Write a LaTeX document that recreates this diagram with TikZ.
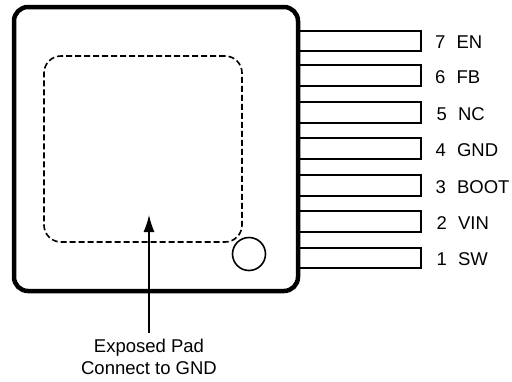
\documentclass[tikz,border=0pt]{standalone}
\usepackage{fontspec}
\setmainfont{Liberation Sans}
\usetikzlibrary{arrows.meta}
\tikzstyle{pkgbox}=[
      rectangle,
      inner sep = 0pt,
      line width = 4.5pt,
      rounded corners = 14pt,
      draw = black,
      minimum width = 284pt,
      minimum height = 284pt
      ]
\tikzstyle{padbox}=[
      rectangle,
      inner sep = 0pt,
      line width = 1.6pt,
      dash pattern = on 6pt off 3pt,
      rounded corners = 17pt,
      draw = black,
      minimum width = 198pt,
      minimum height = 186pt
      ]
\tikzstyle{pinbox}=[
      rectangle,
      inner sep = 0pt,
      line width = 2pt,
      draw = black,
      minimum width = 121.5pt,
      minimum height = 20.5pt
      ]
\tikzstyle{pinlabel}=[
      inner sep = 0pt,
      anchor = west,
      yshift = -1.5pt,
      font = \fontsize{18.5pt}{22pt}\selectfont
      ]
\begin{document}
\begin{tikzpicture}[x=1pt,y=-1pt]
\useasboundingbox (0,0) rectangle (512,381);
% pins first, the package outline sits over their left ends
\foreach \y/\x/\num/\sig in {41/435/7/EN,75.5/435/6/FB,112.5/436.5/5/NC,148.5/435.5/4/GND,185.5/435.5/3/BOOT,221.5/436.5/2/VIN,258/436.5/1/SW}{
  \node [pinbox,anchor=west] (pin\num) at (298,\y) {};
  \node [pinlabel] (lab\num) at (\x,\y) {\num\hspace{0.6em}\sig};
}
\node [pkgbox] (pkg) at (156,149) {};
\node [padbox] (pad) at (143,149) {};
\node [circle,draw,line width=1.6pt,inner sep=0pt,minimum size=33pt] (dot) at (249,254) {};
\coordinate (padtip) at (149,215);
\node [align=center,anchor=north,inner sep=6pt,font=\fontsize{18.5pt}{22pt}\selectfont] (padlabel) at (149,333) {Exposed Pad\\Connect to GND};
\draw [line width=1.3pt,-{Latex[length=17pt,width=11pt]}] (padlabel.north) -- (padtip);
\end{tikzpicture}
\end{document}
